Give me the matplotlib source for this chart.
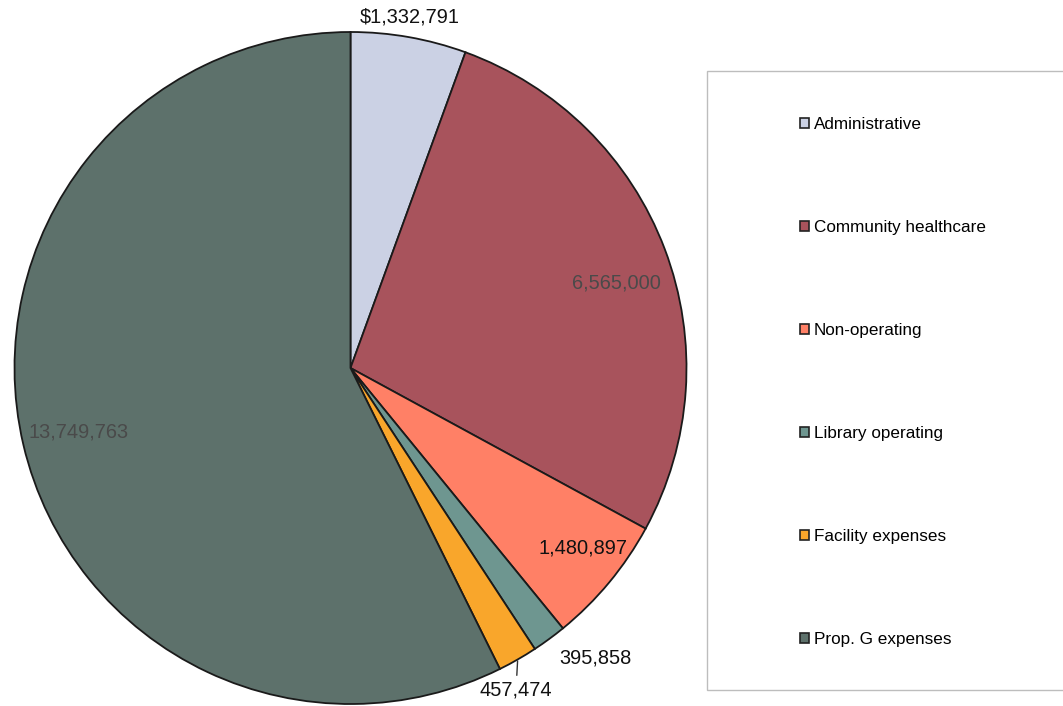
import numpy as np
import matplotlib
matplotlib.use("Agg")
import matplotlib.pyplot as plt
from matplotlib.patches import Patch, Rectangle

plt.rcParams['font.family'] = ['Liberation Sans', 'DejaVu Sans']

categories = ['Administrative', 'Community healthcare', 'Non-operating',
              'Library operating', 'Facility expenses', 'Prop. G expenses']
values = [1332791, 6565000, 1480897, 395858, 457474, 13749763]
value_labels = ['$1,332,791', '6,565,000', '1,480,897', '395,858', '457,474', '13,749,763']
colors = ['#CBD1E4', '#A8535C', '#FF8066', '#6E9690', '#F9A62B', '#5D716B']

W, H = 1063, 706
fig = plt.figure(figsize=(W / 100, H / 100), dpi=100)

cx, cy, R = 350.5, 368, 336
ax = fig.add_axes([(cx - R) / W, (H - cy - R) / H, 2 * R / W, 2 * R / H])
wedges, _ = ax.pie(values, colors=colors, startangle=90, counterclock=False,
                   radius=1.0, wedgeprops=dict(edgecolor='#1a1a1a', linewidth=1.3))
ax.set_xlim(-1, 1)
ax.set_ylim(-1, 1)
ax.set_aspect('equal')
ax.axis('off')

# label distance, angle nudge (deg), text colour
label_style = [
    (1.06, 0.5, '#111111'),
    (0.83, -3.0, '#4a4a4a'),
    (0.875, 2.0, '#111111'),
    (1.13, 4.0, '#111111'),
    (1.08, -2.5, '#111111'),
    (0.83, 0.0, '#4a4a4a'),
]

for w, lab, (dist, nudge, tc) in zip(wedges, value_labels, label_style):
    mid = np.deg2rad((w.theta1 + w.theta2) / 2 + nudge)
    x, y = dist * np.cos(mid), dist * np.sin(mid)
    if lab == '457,474':
        edge = np.deg2rad((w.theta1 + w.theta2) / 2)
        ex, ey = np.cos(edge), np.sin(edge)
        ax.annotate(lab, xy=(ex, ey), xytext=(ex - 0.005, ey - 0.092), ha='center', va='center',
                    fontsize=14.4, color=tc, annotation_clip=False,
                    arrowprops=dict(arrowstyle='-', color='#333333', lw=1.0,
                                    shrinkA=2, shrinkB=1))
    else:
        ax.text(x, y, lab, ha='center', va='center', fontsize=14.4, color=tc, clip_on=False)

# legend box
fig.patches.append(Rectangle((707 / W, 1 - 690 / H), 400 / W, (690 - 71) / H,
                             transform=fig.transFigure, facecolor='white',
                             edgecolor='#bdbdbd', linewidth=1.0, zorder=0))

handles = [Patch(facecolor=c, edgecolor='#222222', linewidth=1.2) for c in colors]
fig.legend(handles, categories, loc='upper left',
           bbox_to_anchor=(788 / W, 1 - 105 / H), bbox_transform=fig.transFigure,
           frameon=False, fontsize=12.3, handlelength=0.55, handleheight=0.55,
           handletextpad=0.25, labelspacing=5.15, borderpad=0.2)

fig.savefig('out.png', dpi=100)
